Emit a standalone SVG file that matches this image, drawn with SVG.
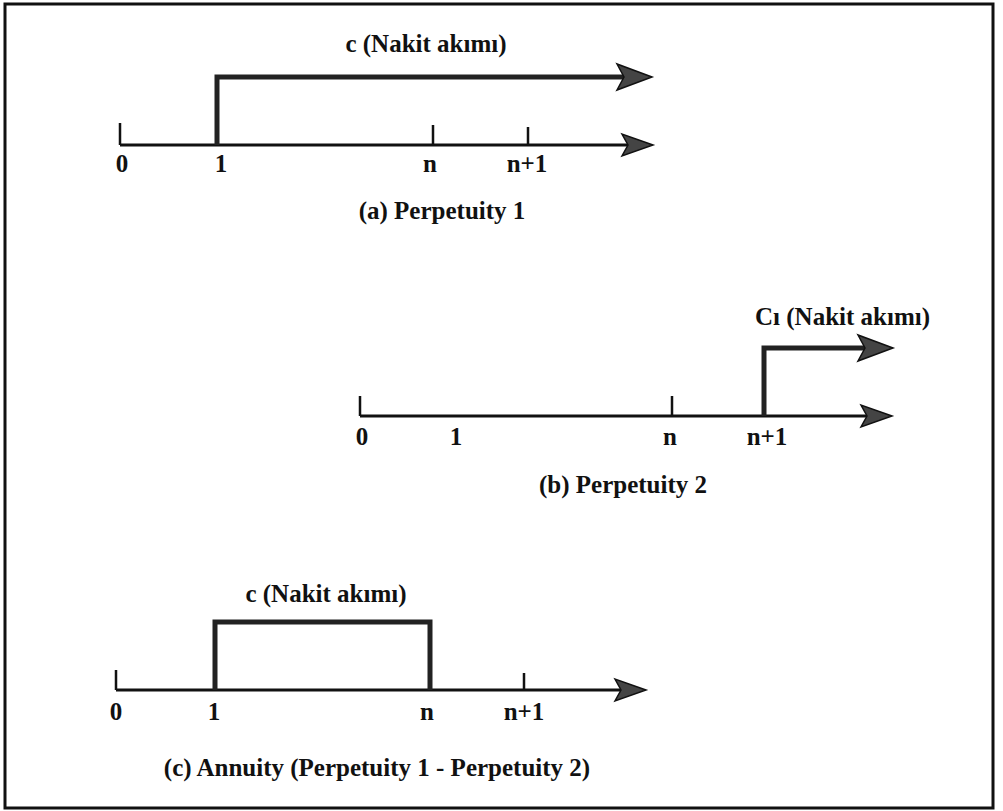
<svg xmlns="http://www.w3.org/2000/svg" width="1003" height="811" viewBox="0 0 1003 811">
<style>
.t{font-family:"Liberation Serif","Times New Roman",serif;font-weight:bold;font-size:25px;fill:#111}
.m{text-anchor:middle}
.ax{stroke:#111;stroke-width:3;fill:none}
.tk{stroke:#111;stroke-width:2.5;fill:none}
.cf{stroke:#222;stroke-width:5;fill:none;stroke-linejoin:miter}
.ah{fill:#444;stroke:#111;stroke-width:1.5;stroke-linejoin:miter}
</style>
<defs>
<path id="big" class="ah" d="M0,0 L-35,-13 L-28,0 L-35,13 Z"/>
<path id="small" class="ah" d="M0,0 L-31,-11 L-25,0 L-31,11 Z"/>
</defs>
<rect x="5" y="4" width="988" height="804" fill="#fff" stroke="#111" stroke-width="3"/>
<g id="connectors">
<path class="ax" d="M120,145 H628"/>
<path class="tk" d="M120,123 V145 M433,125 V145 M528,127 V145"/>
<path class="cf" d="M217,145 V77 H624"/>
<use href="#small" x="653" y="145"/>
<use href="#big" x="652" y="77"/>
<path class="ax" d="M360,416 H868"/>
<path class="tk" d="M360,396 V416 M672,396 V416"/>
<path class="cf" d="M764,416 V348 H866"/>
<use href="#small" x="892" y="416"/>
<use href="#big" x="893" y="348"/>
<path class="ax" d="M116,690 H621"/>
<path class="tk" d="M116,670 V690 M524,673 V690"/>
<path class="cf" d="M215,690 V622 H430 V690"/>
<use href="#small" x="646" y="690"/>
</g>
<g id="panel-a">
<text class="t m" x="426" y="52">c (Nakit akımı)</text>
<text class="t m" x="122" y="172">0</text>
<text class="t m" x="221" y="172">1</text>
<text class="t m" x="430" y="172">n</text>
<text class="t m" x="527" y="172">n+1</text>
<text class="t m" x="442" y="219">(a) Perpetuity 1</text>
</g>
<g id="panel-b">
<text class="t" x="755" y="325">Cı (Nakit akımı)</text>
<text class="t m" x="362" y="445">0</text>
<text class="t m" x="456" y="445">1</text>
<text class="t m" x="670" y="445">n</text>
<text class="t m" x="767" y="445">n+1</text>
<text class="t" x="707" y="493" text-anchor="end">(b) Perpetuity 2</text>
</g>
<g id="panel-c">
<text class="t m" x="326" y="602">c (Nakit akımı)</text>
<text class="t m" x="116" y="720">0</text>
<text class="t m" x="214" y="720">1</text>
<text class="t m" x="427" y="720">n</text>
<text class="t m" x="524" y="720">n+1</text>
<text class="t m" x="377" y="776">(c) Annuity (Perpetuity 1 - Perpetuity 2)</text>
</g>
</svg>
